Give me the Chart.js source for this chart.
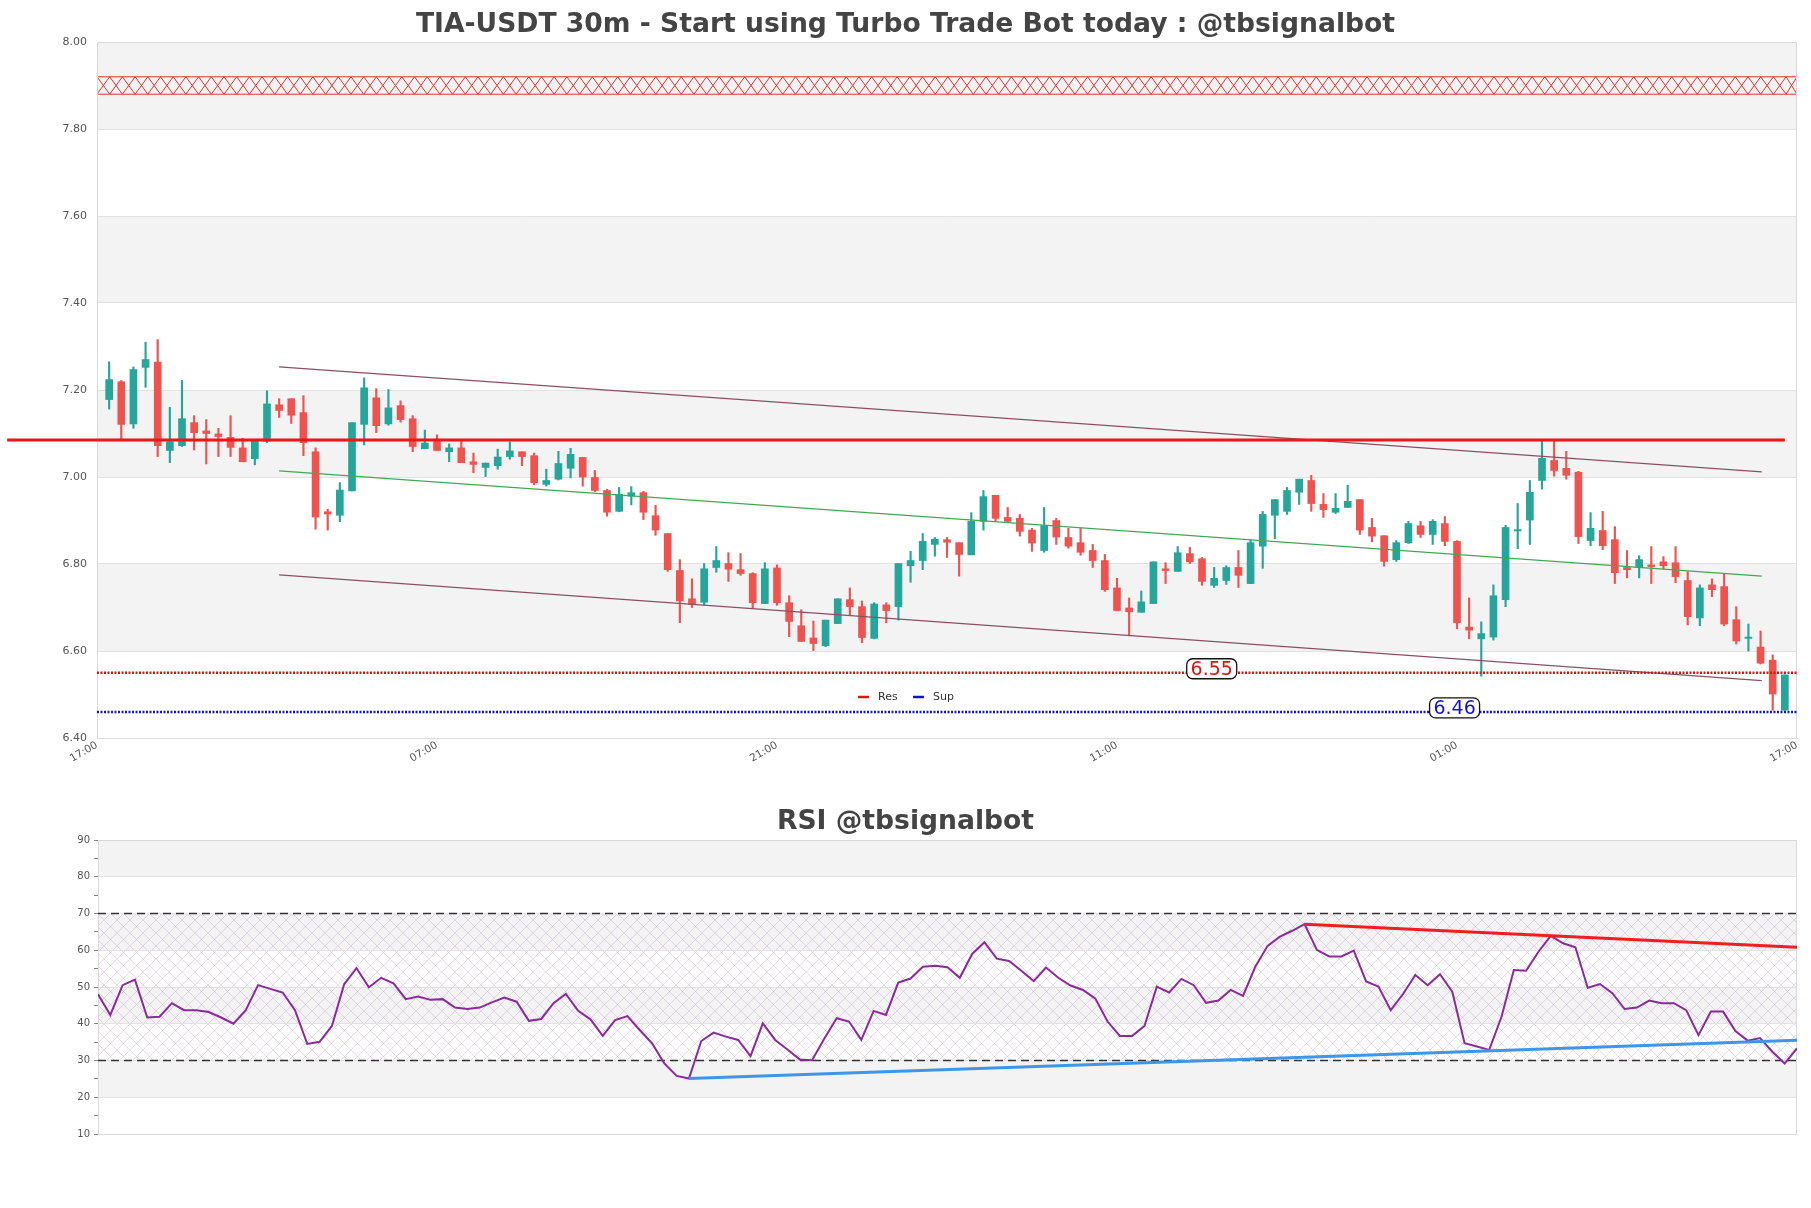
<!DOCTYPE html>
<html>
<head>
<meta charset="utf-8">
<script src="https://cdn.jsdelivr.net/npm/chart.js@4.4.1/dist/chart.umd.min.js"></script>
<style>
  html, body { margin: 0; padding: 0; background: #fff; }
  #wrap { position: relative; width: 1811px; height: 1208px; }
  #price { position: absolute; left: 0; top: 0; }
  #rsi { position: absolute; left: 0; top: 790px; }
</style>
</head>
<body>
<div id="wrap">
  <canvas id="price" width="1811" height="790"></canvas>
  <canvas id="rsi" width="1811" height="418"></canvas>
</div>
<script>
const FONT = "'DejaVu Sans', sans-serif";
const UP = "#26a69a";
const DOWN = "#ef5350";

// x axis: 140 slots of 30m, a tick every 28 slots
const xTickLabels = ["17:00", "07:00", "21:00", "11:00", "01:00", "17:00"];

// OHLC, candle i sits at x = i + 1
const opens = [
  7.178, 7.219, 7.122, 7.252, 7.264, 7.061, 7.072, 7.125, 7.106, 7.099,
  7.091, 7.067, 7.042, 7.082, 7.166, 7.180, 7.148, 7.058, 6.920, 6.912,
  6.968, 7.121, 7.182, 7.122, 7.164, 7.134, 7.065, 7.085, 7.058, 7.067,
  7.035, 7.022, 7.026, 7.047, 7.058, 7.049, 6.983, 6.995, 7.020, 7.045,
  6.999, 6.969, 6.921, 6.956, 6.964, 6.911, 6.870, 6.785, 6.720, 6.712,
  6.792, 6.801, 6.787, 6.778, 6.709, 6.791, 6.711, 6.658, 6.630, 6.612,
  6.663, 6.718, 6.702, 6.629, 6.706, 6.702, 6.796, 6.808, 6.845, 6.856,
  6.849, 6.821, 6.898, 6.958, 6.907, 6.905, 6.878, 6.831, 6.900, 6.861,
  6.849, 6.831, 6.808, 6.745, 6.699, 6.689, 6.709, 6.789, 6.783, 6.824,
  6.812, 6.751, 6.762, 6.792, 6.755, 6.841, 6.912, 6.921, 6.965, 6.992,
  6.937, 6.919, 6.930, 6.948, 6.884, 6.865, 6.810, 6.849, 6.888, 6.868,
  6.893, 6.852, 6.655, 6.628, 6.632, 6.718, 6.876, 6.901, 6.992, 7.038,
  7.020, 7.011, 6.854, 6.877, 6.856, 6.792, 6.792, 6.798, 6.805, 6.803,
  6.762, 6.676, 6.752, 6.748, 6.672, 6.629, 6.609, 6.579, 6.464
];
const highs = [
  7.265, 7.222, 7.253, 7.310, 7.316, 7.160, 7.222, 7.141, 7.132, 7.112,
  7.141, 7.089, 7.083, 7.198, 7.180, 7.180, 7.187, 7.067, 6.926, 6.987,
  7.125, 7.228, 7.203, 7.201, 7.175, 7.141, 7.108, 7.097, 7.076, 7.082,
  7.055, 7.032, 7.064, 7.081, 7.058, 7.055, 7.018, 7.059, 7.066, 7.045,
  7.015, 6.972, 6.976, 6.978, 6.967, 6.935, 6.870, 6.810, 6.766, 6.801,
  6.840, 6.826, 6.824, 6.780, 6.803, 6.798, 6.727, 6.695, 6.669, 6.671,
  6.720, 6.745, 6.715, 6.711, 6.711, 6.801, 6.829, 6.870, 6.861, 6.861,
  6.849, 6.918, 6.969, 6.958, 6.930, 6.914, 6.882, 6.930, 6.905, 6.882,
  6.882, 6.845, 6.822, 6.767, 6.722, 6.738, 6.805, 6.803, 6.840, 6.838,
  6.815, 6.792, 6.796, 6.831, 6.856, 6.921, 6.948, 6.976, 6.995, 7.004,
  6.962, 6.962, 6.981, 6.948, 6.905, 6.865, 6.854, 6.898, 6.898, 6.902,
  6.909, 6.854, 6.722, 6.667, 6.752, 6.889, 6.939, 6.992, 7.082, 7.082,
  7.059, 7.013, 6.918, 6.921, 6.886, 6.831, 6.819, 6.840, 6.817, 6.840,
  6.782, 6.752, 6.766, 6.778, 6.702, 6.662, 6.646, 6.591, 6.545
];
const lows = [
  7.156, 7.087, 7.112, 7.206, 7.047, 7.033, 7.070, 7.062, 7.030, 7.047,
  7.047, 7.035, 7.028, 7.079, 7.137, 7.123, 7.049, 6.880, 6.878, 6.897,
  6.968, 7.074, 7.102, 7.119, 7.126, 7.058, 7.065, 7.061, 7.035, 7.033,
  7.010, 7.001, 7.018, 7.041, 7.026, 6.982, 6.979, 6.993, 6.998, 6.979,
  6.966, 6.910, 6.920, 6.936, 6.902, 6.866, 6.783, 6.665, 6.700, 6.705,
  6.781, 6.760, 6.774, 6.698, 6.709, 6.705, 6.633, 6.622, 6.601, 6.610,
  6.663, 6.682, 6.619, 6.628, 6.665, 6.671, 6.758, 6.787, 6.818, 6.815,
  6.772, 6.821, 6.878, 6.898, 6.895, 6.864, 6.829, 6.827, 6.845, 6.836,
  6.820, 6.792, 6.737, 6.693, 6.635, 6.689, 6.709, 6.755, 6.783, 6.801,
  6.751, 6.746, 6.753, 6.746, 6.755, 6.790, 6.858, 6.914, 6.937, 6.921,
  6.907, 6.916, 6.930, 6.868, 6.851, 6.795, 6.806, 6.847, 6.861, 6.845,
  6.842, 6.651, 6.628, 6.542, 6.625, 6.702, 6.835, 6.845, 6.972, 7.002,
  6.995, 6.847, 6.842, 6.833, 6.755, 6.768, 6.768, 6.755, 6.789, 6.757,
  6.660, 6.658, 6.725, 6.658, 6.616, 6.600, 6.570, 6.464, 6.464
];
const closes = [
  7.224, 7.121, 7.247, 7.270, 7.072, 7.081, 7.134, 7.102, 7.100, 7.093,
  7.068, 7.035, 7.083, 7.168, 7.153, 7.142, 7.079, 6.908, 6.915, 6.970,
  7.125, 7.205, 7.118, 7.159, 7.132, 7.070, 7.078, 7.061, 7.067, 7.033,
  7.029, 7.032, 7.046, 7.060, 7.047, 6.987, 6.992, 7.031, 7.052, 7.000,
  6.969, 6.919, 6.960, 6.964, 6.919, 6.878, 6.787, 6.715, 6.707, 6.789,
  6.808, 6.788, 6.778, 6.711, 6.789, 6.711, 6.668, 6.622, 6.617, 6.671,
  6.720, 6.702, 6.631, 6.708, 6.693, 6.801, 6.808, 6.852, 6.857, 6.850,
  6.822, 6.898, 6.955, 6.905, 6.898, 6.875, 6.848, 6.888, 6.862, 6.841,
  6.827, 6.808, 6.741, 6.693, 6.690, 6.713, 6.805, 6.785, 6.826, 6.805,
  6.760, 6.767, 6.792, 6.774, 6.849, 6.914, 6.948, 6.969, 6.995, 6.939,
  6.925, 6.928, 6.944, 6.878, 6.864, 6.806, 6.849, 6.893, 6.868, 6.898,
  6.852, 6.665, 6.648, 6.640, 6.727, 6.884, 6.879, 6.965, 7.043, 7.015,
  7.004, 6.863, 6.882, 6.842, 6.780, 6.787, 6.810, 6.794, 6.796, 6.771,
  6.679, 6.745, 6.741, 6.662, 6.623, 6.632, 6.572, 6.501, 6.545
];

// RSI, point i at x = i (0..138)
const rsiValues = [
  48.0, 42.4, 50.5, 52.0, 41.7, 41.9, 45.6, 43.7, 43.7, 43.2,
  41.7, 40.0, 43.7, 50.5, 49.5, 48.5, 43.7, 34.5, 35.1, 39.4,
  50.8, 55.1, 49.9, 52.5, 51.0, 46.7, 47.4, 46.5, 46.7, 44.4,
  44.0, 44.4, 45.8, 47.1, 46.0, 40.8, 41.3, 45.6, 48.1, 43.5,
  41.2, 36.7, 41.0, 42.1, 38.3, 34.7, 29.2, 25.8, 25.1, 35.3,
  37.6, 36.5, 35.6, 31.2, 40.1, 35.6, 33.0, 30.3, 30.1, 36.0,
  41.5, 40.6, 35.6, 43.5, 42.4, 51.2, 52.3, 55.5, 55.8, 55.4,
  52.5, 59.0, 62.2, 57.7, 57.1, 54.4, 51.6, 55.3, 52.5, 50.4,
  49.2, 46.9, 40.6, 36.7, 36.7, 39.4, 50.1, 48.5, 52.2, 50.5,
  45.7, 46.3, 49.2, 47.6, 55.5, 61.2, 63.7, 65.3, 67.1, 60.1,
  58.3, 58.3, 59.9, 51.5, 50.1, 43.7, 48.1, 53.3, 50.5, 53.5,
  48.7, 34.7, 33.8, 32.9, 41.9, 54.6, 54.4, 59.6, 63.9, 61.9,
  60.8, 49.8, 50.8, 48.3, 44.0, 44.4, 46.3, 45.6, 45.6, 43.7,
  36.9, 43.3, 43.3, 38.0, 35.4, 36.1, 32.4, 29.2, 33.3
];

// overlays (data space)
const channelUpper = [{ x: 15, y: 7.253 }, { x: 137.1, y: 7.012 }];
const channelMid = [{ x: 15, y: 7.014 }, { x: 137.1, y: 6.772 }];
const channelLower = [{ x: 15, y: 6.775 }, { x: 137.1, y: 6.532 }];
const keyLevel = [{ x: -7.4, y: 7.085 }, { x: 139, y: 7.085 }];
const resLevel = 6.55;
const supLevel = 6.46;
const resLabelAt = 91.8;
const supLabelAt = 111.8;
const sellZone = [7.88, 7.92];
const rsiRedTrend = [{ x: 98, y: 67.1 }, { x: 138, y: 60.8 }];
const rsiBlueTrend = [{ x: 48, y: 25.1 }, { x: 138, y: 35.5 }];
const priceBands = [[7.8, 8.0], [7.4, 7.6], [7.0, 7.2], [6.6, 6.8]];
const rsiBands = [[80, 90], [60, 70], [40, 50], [20, 30]];

const candleColors = closes.map((c, i) => (c >= opens[i] ? UP : DOWN));
const bodies = opens.map((o, i) => ({ x: i + 1, y: [o, closes[i]] }));
const wicks = lows.map((l, i) => ({ x: i + 1, y: [l, highs[i]] }));
const flat = (v, a, b) => [{ x: a, y: v }, { x: b, y: v }];

// alternating bands, hatch and frame
const backdrop = {
  id: "backdrop",
  beforeDraw(chart, args, o) {
    const { ctx, chartArea: a, scales: { y } } = chart;
    ctx.save();
    ctx.fillStyle = "#f3f3f3";
    o.bands.forEach(([lo, hi]) => {
      const t = y.getPixelForValue(hi);
      ctx.fillRect(a.left, t, a.right - a.left, y.getPixelForValue(lo) - t);
    });
    if (o.hatch) {
      const tile = document.createElement("canvas");
      tile.width = tile.height = 13;
      const g = tile.getContext("2d");
      g.strokeStyle = "rgba(175,145,195,0.4)";
      g.lineWidth = 0.8;
      g.beginPath();
      g.moveTo(0, 0); g.lineTo(13, 13);
      g.moveTo(13, 0); g.lineTo(0, 13);
      g.stroke();
      const t = y.getPixelForValue(o.hatch[1]);
      ctx.fillStyle = ctx.createPattern(tile, "repeat");
      ctx.fillRect(a.left, t, a.right - a.left, y.getPixelForValue(o.hatch[0]) - t);
    }
    ctx.restore();
  },
  beforeDatasetsDraw(chart, args, o) {
    const { ctx, chartArea: a, scales: { y } } = chart;
    ctx.save();
    if (o.zone) {
      const t = y.getPixelForValue(o.zone[1]);
      const b = y.getPixelForValue(o.zone[0]);
      ctx.strokeStyle = "#e83030";
      ctx.lineWidth = 1;
      ctx.beginPath();
      for (let x = a.left; x < a.right; x += 12.7) {
        const x2 = Math.min(x + 12.7, a.right);
        ctx.moveTo(x, t); ctx.lineTo(x2, b);
        ctx.moveTo(x2, t); ctx.lineTo(x, b);
      }
      ctx.moveTo(a.left, t); ctx.lineTo(a.right, t);
      ctx.moveTo(a.left, b); ctx.lineTo(a.right, b);
      ctx.stroke();
    }
    ctx.strokeStyle = "#d9d9d9";
    ctx.lineWidth = 1;
    ctx.strokeRect(a.left + 0.5, a.top + 0.5, a.right - a.left - 1, a.bottom - a.top);
    ctx.restore();
  },
};

const heading = {
  id: "heading",
  afterDraw(chart, args, o) {
    const ctx = chart.ctx;
    ctx.save();
    ctx.font = `bold 26.6px ${FONT}`;
    ctx.fillStyle = "#444";
    ctx.textAlign = "center";
    ctx.textBaseline = "middle";
    ctx.fillText(o.text, chart.width / 2, o.y);
    ctx.restore();
  },
};

// boxed level labels + small Res/Sup key
const levelTags = {
  id: "levelTags",
  afterDatasetsDraw(chart, args, o) {
    const { ctx, scales: { x, y } } = chart;
    ctx.save();
    ctx.font = `19px ${FONT}`;
    ctx.textAlign = "center";
    ctx.textBaseline = "middle";
    o.tags.forEach((t) => {
      const cx = x.getPixelForValue(t.at);
      const cy = y.getPixelForValue(t.value) - 4;
      ctx.beginPath();
      ctx.roundRect(cx - 25, cy - 10, 50, 20, 6);
      ctx.fillStyle = "#fff";
      ctx.fill();
      ctx.lineWidth = 1.3;
      ctx.strokeStyle = "#111";
      ctx.stroke();
      ctx.fillStyle = t.color;
      ctx.fillText(t.value.toFixed(2), cx, cy + 1);
    });
    ctx.font = `11px ${FONT}`;
    ctx.textAlign = "left";
    let lx = o.keyX;
    o.keys.forEach((k) => {
      ctx.strokeStyle = k.color;
      ctx.lineWidth = 2.5;
      ctx.beginPath();
      ctx.moveTo(lx, o.keyY); ctx.lineTo(lx + 11, o.keyY);
      ctx.stroke();
      ctx.fillStyle = "#333";
      ctx.fillText(k.label, lx + 20, o.keyY);
      lx += 55;
    });
    ctx.restore();
  },
};

const lineDs = (data, color, width, extra) => Object.assign({
  type: "line", data, borderColor: color, borderWidth: width,
  pointRadius: 0, fill: false, tension: 0, order: 0,
}, extra || {});

new Chart(document.getElementById("price"), {
  type: "bar",
  data: {
    datasets: [
      lineDs(keyLevel, "#ee1515", 3, { clip: false }),
      lineDs(flat(resLevel, 0, 140), "#dd1414", 2.5, { borderDash: [2, 1.5] }),
      lineDs(flat(supLevel, 0, 140), "#1414cc", 2.5, { borderDash: [2, 1.5] }),
      lineDs(channelUpper, "#8a4f64", 1.2),
      lineDs(channelMid, "#43a853", 1.2),
      lineDs(channelLower, "#8a4f64", 1.2),
      {
        data: bodies, backgroundColor: candleColors, barThickness: 7,
        grouped: false, order: 1,
      },
      {
        data: wicks, backgroundColor: candleColors, barThickness: 1.5,
        grouped: false, order: 2,
      },
    ],
  },
  options: {
    responsive: false,
    animation: false,
    events: [],
    layout: { padding: { top: 42, right: 14, bottom: 0, left: 0 } },
    plugins: {
      legend: { display: false },
      tooltip: { enabled: false },
      backdrop: { bands: priceBands, zone: sellZone },
      heading: { text: "TIA-USDT 30m - Start using Turbo Trade Bot today : @tbsignalbot", y: 25 },
      levelTags: {
        tags: [
          { value: resLevel, at: resLabelAt, color: "#dd1414" },
          { value: supLevel, at: supLabelAt, color: "#1414cc" },
        ],
        keys: [{ label: "Res", color: "#dd1414" }, { label: "Sup", color: "#1414cc" }],
        keyX: 858, keyY: 697,
      },
    },
    scales: {
      x: {
        type: "linear", min: 0, max: 140, offset: false,
        grid: { display: false, drawTicks: false },
        border: { display: true, color: "#d9d9d9" },
        ticks: {
          stepSize: 28, autoSkip: false, minRotation: 30, maxRotation: 30, padding: 1,
          color: "#555", font: { family: FONT, size: 10.5 },
          callback: (v) => xTickLabels[Math.round(v / 28)],
        },
        afterFit: (s) => { s.height = 52; },
      },
      y: {
        min: 6.4, max: 8.0,
        grid: { color: "#e2e2e2", drawTicks: false },
        border: { display: true, color: "#d9d9d9" },
        ticks: {
          stepSize: 0.2, padding: 10, color: "#555", font: { family: FONT, size: 11 },
          callback: (v) => Number(v).toFixed(2),
        },
        afterFit: (s) => { s.width = 97; },
      },
    },
  },
  plugins: [backdrop, heading, levelTags],
});

new Chart(document.getElementById("rsi"), {
  type: "line",
  data: {
    datasets: [
      lineDs(rsiRedTrend, "#f01e1e", 3),
      lineDs(rsiBlueTrend, "#3c97ea", 3),
      lineDs(rsiValues.map((v, i) => ({ x: i, y: v })), "#8b2a9b", 2, { order: 1 }),
      lineDs(flat(70, 0, 138), "#333", 1.3, { borderDash: [8, 5], order: 2 }),
      lineDs(flat(30, 0, 138), "#333", 1.3, { borderDash: [8, 5], order: 2 }),
    ],
  },
  options: {
    responsive: false,
    animation: false,
    events: [],
    layout: { padding: { top: 50, right: 14, bottom: 74, left: 0 } },
    plugins: {
      legend: { display: false },
      tooltip: { enabled: false },
      backdrop: { bands: rsiBands, hatch: [30, 70] },
      heading: { text: "RSI @tbsignalbot", y: 32 },
    },
    scales: {
      x: { type: "linear", min: 0, max: 138, display: false },
      y: {
        min: 10, max: 90,
        grid: {
          color: (c) => (c.tick && c.tick.value % 10 === 0 ? "#e2e2e2" : "transparent"),
          tickColor: "#888", tickLength: 4,
        },
        border: { display: true, color: "#d9d9d9" },
        ticks: {
          stepSize: 5, autoSkip: false, padding: 4, color: "#555", font: { family: FONT, size: 10 },
          callback: (v) => (v % 10 === 0 ? v : ""),
        },
        afterFit: (s) => { s.width = 98; },
      },
    },
  },
  plugins: [backdrop, heading],
});
</script>
</body>
</html>
